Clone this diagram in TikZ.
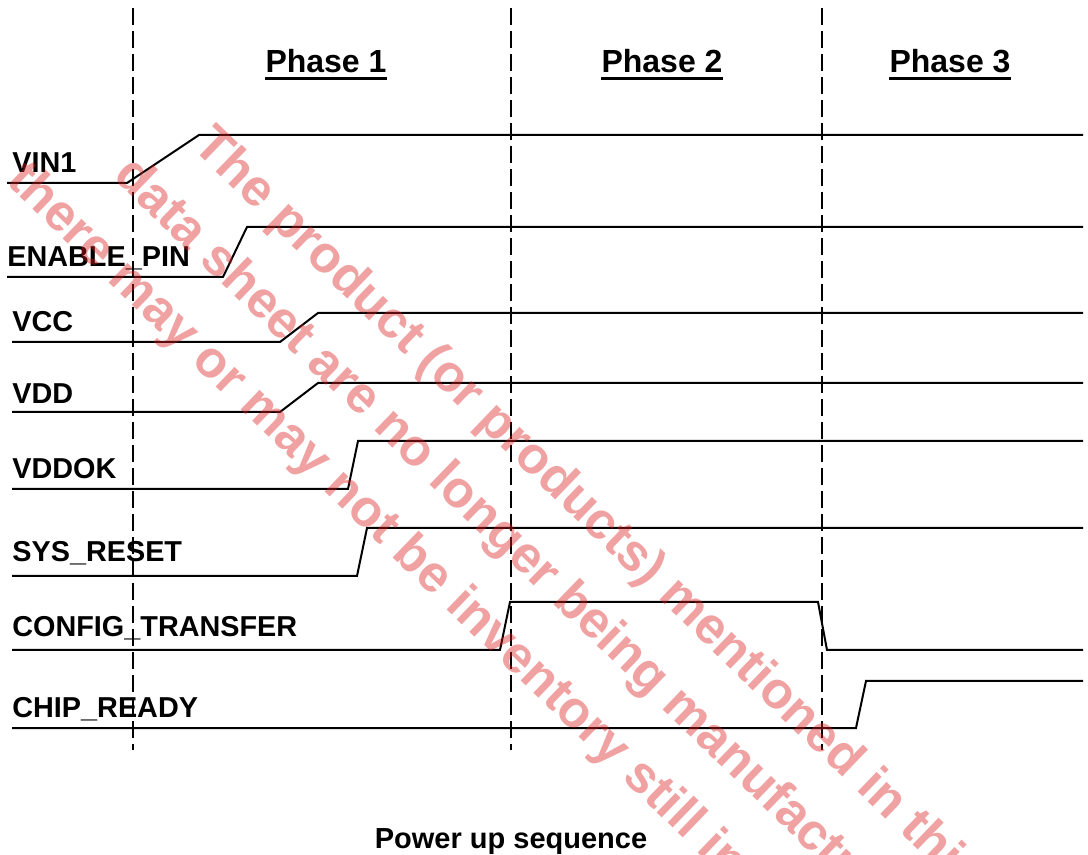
\documentclass[tikz,border=0pt]{standalone}
\usepackage{fontspec}
\setmainfont{Liberation Sans}
\definecolor{wmred}{RGB}{220,30,30}
\tikzset{
  signal/.style={line width=1pt, line join=miter},
  phaseline/.style={line width=1pt, dash pattern=on 8.5pt off 3pt},
  siglabel/.style={anchor=base west, inner sep=0pt, font=\fontsize{14.4}{16}\selectfont\bfseries},
  phaselabel/.style={anchor=base, inner sep=0pt, font=\fontsize{16}{18}\selectfont\bfseries},
  wmark/.style={anchor=west, inner sep=0pt, rotate=-44, text=wmred, text opacity=0.42,
    font=\fontsize{25.8}{30}\selectfont\bfseries}
}
\begin{document}
\begin{tikzpicture}[x=0.5pt, y=-0.5pt]
    \useasboundingbox (0,0) rectangle (1088,855);
    % Phase boundaries
    \foreach \x in {133,511,822}
        \draw[phaseline] (\x,8) -- (\x,750);
    % Phase titles
    \node[phaselabel] (ph1) at (326,73) {Phase 1};
    \node[phaselabel] (ph2) at (662,73) {Phase 2};
    \node[phaselabel] (ph3) at (950,73) {Phase 3};
    \foreach \p in {ph1,ph2,ph3}
        \draw[line width=1.4pt] ([yshift=-2.2pt]\p.south west) -- ([yshift=-2.2pt]\p.south east);
    % Signals
    \node[siglabel] (vin) at (12,173) {VIN1};
    \draw[signal] (7,183) -- (127,183) -- (199,135) -- (1083,135);
    \node[siglabel] (en) at (7,267) {ENABLE\_PIN};
    \draw[signal] (7,277) -- (223,277) -- (247,227) -- (1083,227);
    \node[siglabel] (vcc) at (12,332) {VCC};
    \draw[signal] (12,342) -- (280,342) -- (318,313) -- (1083,313);
    \node[siglabel] (vdd) at (12,404) {VDD};
    \draw[signal] (12,412) -- (280,412) -- (318,383) -- (1083,383);
    \node[siglabel] (vddok) at (12,479) {VDDOK};
    \draw[signal] (12,489) -- (348,489) -- (358,441) -- (1083,441);
    \node[siglabel] (rst) at (12,562) {SYS\_RESET};
    \draw[signal] (12,576) -- (357,576) -- (367,528) -- (1083,528);
    \node[siglabel] (cfg) at (12,637) {CONFIG\_TRANSFER};
    \draw[signal] (12,650) -- (500,650) -- (510,602) -- (818,602) -- (827,650) -- (1083,650);
    \node[siglabel] (rdy) at (12,718) {CHIP\_READY};
    \draw[signal] (12,728) -- (856,728) -- (866,681) -- (1083,681);
    % Caption
    \node[anchor=base, inner sep=0pt, font=\fontsize{14.5}{17}\selectfont\bfseries] (cap) at (511,848) {Power up sequence};
    % Watermark
    \begin{scope}
        \clip (0,0) rectangle (1088,855);
        \node[wmark] (wm1) at (200,138) {The product (or products) mentioned in this};
        \node[wmark] (wm2) at (121,168) {data sheet are no longer being manufactured,};
        \node[wmark] (wm3) at (14,173) {there may or may not be inventory still in stock.};
    \end{scope}
\end{tikzpicture}
\end{document}
